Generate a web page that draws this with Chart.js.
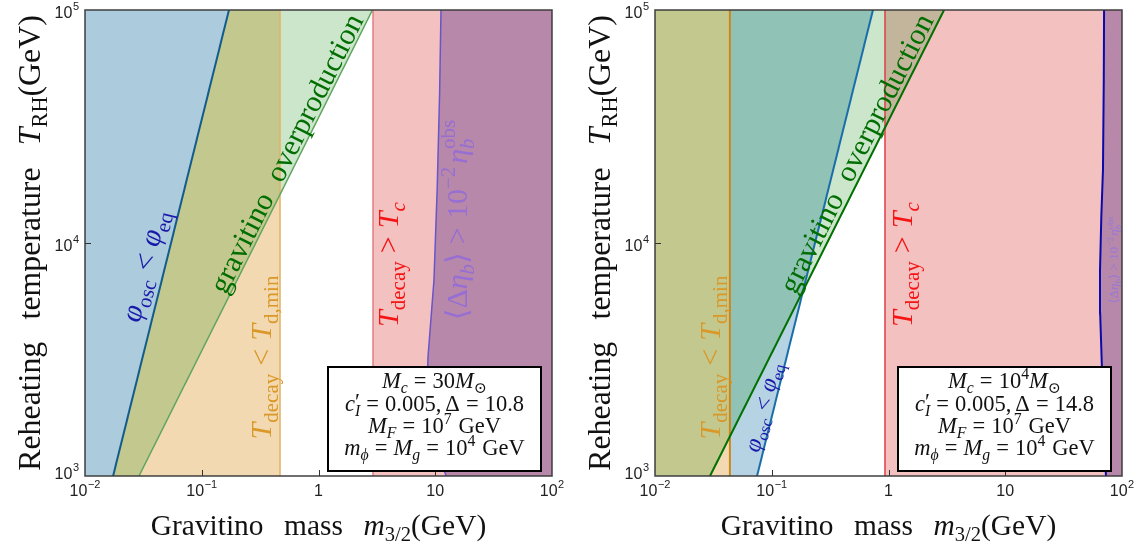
<!DOCTYPE html>
<html><head><meta charset="utf-8">
<script src="https://cdn.jsdelivr.net/npm/chart.js@4.4.1/dist/chart.umd.min.js"></script>
<style>
html,body{margin:0;padding:0;background:#fff;}
#wrap{position:relative;width:1145px;height:547px;overflow:hidden;background:#fff;}
canvas{position:absolute;top:0;}
#c1{left:0;width:572px;height:547px;}
#c2{left:572px;width:573px;height:547px;}
</style></head><body>
<div id="wrap"><canvas id="c1" width="572" height="547"></canvas><canvas id="c2" width="573" height="547"></canvas></div>
<script>
// ---------------- data ----------------
const xTickValues = [0.01, 0.1, 1, 10, 100];
const xTickLabels = ['10^\u22122', '10^\u22121', '1', '10', '10^2'];
const yTickValues = [1e3, 1e4, 1e5];
const yTickLabels = ['10^3', '10^4', '10^5'];

// Left panel: Mc = 30 Msun, Delta = 10.8   (points: [m_3/2 (GeV), T_RH (GeV)])
const leftOscBoundary = [[0.0174, 1e3], [0.171, 1e5]];
const leftGravitinoBoundary = [[0.029, 1e3], [2.9, 1e5]];
const leftTdMinMass = 0.468;
const leftTcMass = 2.93;
const leftEtaBoundary = [[12.4, 1e3], [9.3, 1500], [8.5, 2300], [8.67, 3245], [9.75, 6930], [10.4, 17400], [10.9, 44000], [11.2, 1e5]];

// Right panel: Mc = 1e4 Msun, Delta = 14.8
const rightOscBoundary = [[0.0748, 1e3], [0.736, 1e5]];
const rightGravitinoBoundary = [[0.0296, 1e3], [2.99, 1e5]];
const rightTdMinMass = 0.0438;
const rightTcMass = 0.933;
const rightEtaBoundary = [[72.9, 1e3], [68, 2000], [67.4, 2850], [65, 5000], [64.8, 7650], [66.5, 13000], [68.7, 20560], [69.8, 50000], [70.2, 1e5]];

// ---------------- helpers ----------------
const X0 = xTickValues[0], X1 = xTickValues[xTickValues.length - 1];
const Y0 = yTickValues[0], Y1 = yTickValues[yTickValues.length - 1];
const P = a => a.map(([x, y]) => ({x, y}));
const leftOfCurve = c => P([[X0, Y0], ...c, [X0, Y1]]);
const rightOfCurve = c => P([...c, [X1, Y1], [X1, Y0]]);
const leftOfMass = m => P([[X0, Y0], [m, Y0], [m, Y1], [X0, Y1]]);
const rightOfMass = m => P([[m, Y0], [X1, Y0], [X1, Y1], [m, Y1]]);
const betweenMassCurve = (m, c) => P([[m, Y0], ...c, [m, Y1]]);
const vline = m => P([[m, Y0], [m, Y1]]);

function fillDS(data, color) {
  return {data, backgroundColor: color, borderColor: 'rgba(0,0,0,0)', borderWidth: 0, fill: 'shape', pointRadius: 0, showLine: true};
}
function lineDS(data, color, w) {
  return {data, borderColor: color, backgroundColor: color, borderWidth: w, fill: false, pointRadius: 0, showLine: true};
}

const SERIF = '"Liberation Serif", "DejaVu Serif", serif';
const SANS = '"Liberation Sans", "DejaVu Sans", sans-serif';
function fontStr(f, s) { return (f === 'i' ? 'italic ' : '') + s.toFixed(2) + 'px ' + SERIF; }
function runWidth(ctx, r, size) {
  if (Array.isArray(r)) { const s = r[2] ? size * 0.7 : size; ctx.font = fontStr(r[1], s); return ctx.measureText(r[0]).width; }
  if (r.g !== undefined) return r.g * size;
  let w = 0;
  if (r.sub) { ctx.font = fontStr(r.subF || 'r', size * 0.7); w = Math.max(w, ctx.measureText(r.sub).width); }
  if (r.sup) { ctx.font = fontStr(r.supF || 'r', size * (r.supS || 0.7)); w = Math.max(w, ctx.measureText(r.sup).width); }
  return w;
}
function richWidth(ctx, runs, size) { return runs.reduce((a, r) => a + runWidth(ctx, r, size), 0); }
function drawRich(ctx, runs, size, x, y, angle, color) {
  const w = richWidth(ctx, runs, size);
  ctx.save();
  ctx.translate(x, y); ctx.rotate(angle);
  ctx.fillStyle = color; ctx.textBaseline = 'alphabetic'; ctx.textAlign = 'left';
  let cx = -w / 2;
  for (const r of runs) {
    if (Array.isArray(r)) {
      const s = r[2] ? size * 0.7 : size; ctx.font = fontStr(r[1], s);
      const dy = r[2] === 'sub' ? size * 0.22 : (r[2] === 'sup' ? -size * 0.4 : 0);
      ctx.fillText(r[0], cx, dy); cx += ctx.measureText(r[0]).width;
    } else if (r.g !== undefined) {
      cx += r.g * size;
    } else {
      let ww = 0;
      if (r.sub) { ctx.font = fontStr(r.subF || 'r', size * 0.7); ctx.fillText(r.sub, cx, size * 0.22); ww = Math.max(ww, ctx.measureText(r.sub).width); }
      if (r.sup) { ctx.font = fontStr(r.supF || 'r', size * (r.supS || 0.7)); ctx.fillText(r.sup, cx, -size * (r.supY || 0.4)); ww = Math.max(ww, ctx.measureText(r.sup).width); }
      cx += ww;
    }
  }
  ctx.restore();
}
// tick label like "10^-2" in sans with a real superscript
function drawTickLabel(ctx, label, x, y, align) {
  const [base, sup] = label.split('^');
  ctx.font = '16px ' + SANS; const wb = ctx.measureText(base).width;
  let ws = 0;
  if (sup) { ctx.font = '11px ' + SANS; ws = ctx.measureText(sup).width + 0.5; }
  const w = wb + ws;
  let x0 = align === 'right' ? x - w : x - w / 2;
  ctx.fillStyle = '#222'; ctx.textBaseline = 'middle'; ctx.textAlign = 'left';
  ctx.font = '16px ' + SANS; ctx.fillText(base, x0, y);
  if (sup) { ctx.font = '11px ' + SANS; ctx.fillText(sup, x0 + wb + 0.5, y - 7); }
}
const rel = s => [{g: 0.27}, [s, 'r'], {g: 0.27}];

// ---------------- texts ----------------
const PHI = [['\u03C6', 'i'], ['osc', 'r', 'sub'], ...rel('<'), ['\u03C6', 'i'], ['eq', 'r', 'sub']];
const GRAV = [['gravitino', 'r'], {g: 0.55}, ['overproduction', 'r']];
const TDMIN = [['T', 'i'], ['decay', 'r', 'sub'], ...rel('<'), ['T', 'i'], ['d,min', 'r', 'sub']];
const TC = [['T', 'i'], ['decay', 'r', 'sub'], ...rel('>'), ['T', 'i'], ['c', 'i', 'sub']];
const ETA = [['\u27E8\u0394', 'r'], ['\u03B7', 'i'], {sub: 'b', subF: 'i'}, ['\u27E9', 'r'], ...rel('>'), ['10', 'r'], ['\u22122', 'r', 'sup'], {g: 0.1}, ['\u03B7', 'i'], {sub: 'b', subF: 'i', sup: 'obs', supF: 'r'}];
const XTITLE = [['Gravitino', 'r'], {g: 0.7}, ['mass', 'r'], {g: 0.7}, ['m', 'i'], ['3/2', 'r', 'sub'], ['(GeV)', 'r']];
const YTITLE = [['Reheating', 'r'], {g: 0.7}, ['temperature', 'r'], {g: 0.7}, ['T', 'i'], ['RH', 'r', 'sub'], ['(GeV)', 'r']];
const LINE_MF = [['M', 'i'], ['F', 'i', 'sub'], ...rel('='), ['10', 'r'], ['7', 'r', 'sup'], {g: 0.3}, ['GeV', 'r']];
const LINE_MPHI = [['m', 'i'], ['\u03D5', 'i', 'sub'], ...rel('='), ['M', 'i'], ['g', 'i', 'sub'], ...rel('='), ['10', 'r'], ['4', 'r', 'sup'], {g: 0.3}, ['GeV', 'r']];
const cLine = d => [['c', 'i'], {sup: '\u2032', supS: 1.0, supY: 0.08, sub: 'I', subF: 'i', supF: 'r'}, ...rel('='), ['0.005,', 'r'], {g: 0.18}, ['\u0394', 'r'], ...rel('='), [d, 'r']];

const leftPanel = {
  canvas: 'c1', axisW: 85, padRight: 20,
  layers: [
    fillDS(leftOfMass(leftTdMinMass), 'rgba(222,160,60,0.4)'),
    fillDS(rightOfMass(leftTcMass), 'rgba(220,50,50,0.3)'),
    fillDS(leftOfCurve(leftGravitinoBoundary), 'rgba(0,128,0,0.2)'),
    fillDS(rightOfCurve(leftEtaBoundary), 'rgba(122,80,146,0.5)'),
    fillDS(leftOfCurve(leftOscBoundary), 'rgb(172,203,221)'),
    lineDS(vline(leftTdMinMass), 'rgb(226,178,98)', 1.5),
    lineDS(vline(leftTcMass), 'rgb(228,125,130)', 1.5),
    lineDS(P(leftGravitinoBoundary), 'rgb(95,165,95)', 1.5),
    lineDS(P(leftEtaBoundary), 'rgb(105,85,200)', 1.5),
    lineDS(P(leftOscBoundary), 'rgb(18,92,140)', 2)
  ],
  labels: [
    {runs: PHI, size: 30, color: 'rgb(25,25,170)', at: [0.0385, 7800], along: leftOscBoundary},
    {runs: GRAV, size: 30, color: 'rgb(0,110,0)', at: [0.629, 23200], along: leftGravitinoBoundary},
    {runs: TDMIN, size: 30, color: 'rgb(218,152,40)', at: [0.392, 3226], angle: -90},
    {runs: TC, size: 30, color: 'rgb(245,20,20)', at: [4.80, 8085], angle: -90},
    {runs: ETA, size: 30, color: 'rgb(150,110,212)', at: [18.7, 12550], angle: -90}
  ],
  legend: [
    [['M', 'i'], ['c', 'i', 'sub'], ...rel('='), ['30', 'r'], ['M', 'i'], ['\u2299', 'r', 'sub']],
    cLine('10.8'), LINE_MF, LINE_MPHI
  ]
};
const rightPanel = {
  canvas: 'c2', axisW: 83, padRight: 23,
  layers: [
    fillDS(leftOfMass(rightTdMinMass), 'rgba(222,160,60,0.4)'),
    fillDS(betweenMassCurve(rightTdMinMass, rightOscBoundary), 'rgb(182,211,228)'),
    fillDS(rightOfMass(rightTcMass), 'rgba(220,50,50,0.3)'),
    fillDS(leftOfCurve(rightGravitinoBoundary), 'rgba(0,128,0,0.2)'),
    fillDS(rightOfCurve(rightEtaBoundary), 'rgba(122,80,146,0.5)'),
    lineDS(vline(rightTdMinMass), 'rgb(205,135,25)', 2),
    lineDS(vline(rightTcMass), 'rgb(222,62,72)', 1.5),
    lineDS(P(rightOscBoundary), 'rgb(25,110,170)', 2),
    lineDS(P(rightGravitinoBoundary), 'rgb(0,112,0)', 2),
    lineDS(P(rightEtaBoundary), 'rgb(10,10,170)', 2)
  ],
  labels: [
    {runs: PHI, size: 24, color: 'rgb(25,25,170)', at: [0.0966, 1940], along: rightOscBoundary},
    {runs: GRAV, size: 30, color: 'rgb(0,110,0)', at: [0.629, 23200], along: rightGravitinoBoundary},
    {runs: TDMIN, size: 30, color: 'rgb(218,152,40)', at: [0.036, 3226], angle: -90},
    {runs: TC, size: 30, color: 'rgb(245,20,20)', at: [1.59, 8085], angle: -90},
    {runs: ETA, size: 13, color: 'rgb(150,120,215)', at: [92.4, 8450], angle: -90}
  ],
  legend: [
    [['M', 'i'], ['c', 'i', 'sub'], ...rel('='), ['10', 'r'], ['4', 'r', 'sup'], ['M', 'i'], ['\u2299', 'r', 'sub']],
    cLine('14.8'), LINE_MF, LINE_MPHI
  ]
};

function decor(panel) {
  return {
    id: 'decor_' + panel.canvas,
    afterDatasetsDraw(chart) {
      const ctx = chart.ctx, a = chart.chartArea, xs = chart.scales.x, ys = chart.scales.y;
      // region labels
      ctx.save();
      ctx.beginPath(); ctx.rect(a.left, a.top, a.right - a.left, a.bottom - a.top); ctx.clip();
      for (const L of panel.labels) {
        const px = xs.getPixelForValue(L.at[0]), py = ys.getPixelForValue(L.at[1]);
        let ang;
        if (L.along) {
          const p0 = L.along[0], p1 = L.along[L.along.length - 1];
          ang = Math.atan2(ys.getPixelForValue(p1[1]) - ys.getPixelForValue(p0[1]), xs.getPixelForValue(p1[0]) - xs.getPixelForValue(p0[0]));
        } else ang = L.angle * Math.PI / 180;
        drawRich(ctx, L.runs, L.size, px, py, ang, L.color);
      }
      ctx.restore();
      // tick marks
      ctx.save();
      ctx.strokeStyle = 'rgb(50,50,50)'; ctx.lineWidth = 1;
      for (const v of xTickValues.slice(1, -1)) {
        const x = Math.round(xs.getPixelForValue(v)) + 0.5;
        ctx.beginPath(); ctx.moveTo(x, a.bottom); ctx.lineTo(x, a.bottom - 6); ctx.stroke();
      }
      for (const v of yTickValues.slice(1, -1)) {
        const y = Math.round(ys.getPixelForValue(v)) + 0.5;
        ctx.beginPath(); ctx.moveTo(a.left, y); ctx.lineTo(a.left + 6, y); ctx.stroke();
      }
      // frame
      ctx.strokeStyle = 'rgba(55,55,55,0.9)'; ctx.lineWidth = 1.6;
      ctx.strokeRect(a.left, a.top, a.right - a.left, a.bottom - a.top);
      ctx.restore();
      // tick labels (positions from the library's scales)
      ctx.save();
      xTickValues.forEach((v, i) => drawTickLabel(ctx, xTickLabels[i], xs.getPixelForValue(v), a.bottom + 16, 'center'));
      yTickValues.forEach((v, i) => drawTickLabel(ctx, yTickLabels[i], a.left - 6, ys.getPixelForValue(v) + (i === 0 ? -1 : 4), 'right'));
      ctx.restore();
      // legend box
      const bw = 213, bh = 104, bx = a.right - 11 - bw, by = a.bottom - 5 - bh;
      ctx.save();
      ctx.fillStyle = '#fff'; ctx.fillRect(bx, by, bw, bh);
      ctx.strokeStyle = '#000'; ctx.lineWidth = 2; ctx.strokeRect(bx, by, bw, bh);
      const offs = [21, 44, 66, 88];
      panel.legend.forEach((ln, i) => drawRich(ctx, ln, 22.5, bx + bw / 2, by + offs[i], 0, '#111'));
      ctx.restore();
      // axis titles
      const xs2 = 335 / richWidth(ctx, XTITLE, 1);
      drawRich(ctx, XTITLE, xs2, (a.left + a.right) / 2, a.bottom + 59, 0, '#111');
      const ys2 = 455 / richWidth(ctx, YTITLE, 1);
      drawRich(ctx, YTITLE, ys2, a.left - 45, (a.top + a.bottom) / 2, -Math.PI / 2, '#111');
    }
  };
}

function makeChart(panel) {
  const n = panel.layers.length;
  panel.layers.forEach((d, i) => { d.order = n - i; });
  return new Chart(document.getElementById(panel.canvas), {
    type: 'scatter',
    data: {datasets: panel.layers},
    options: {
      responsive: false, animation: false, devicePixelRatio: 1, events: [],
      layout: {padding: {left: 0, right: panel.padRight, top: 10, bottom: 0}},
      plugins: {legend: {display: false}, tooltip: {enabled: false}},
      scales: {
        x: {
          type: 'logarithmic', position: 'bottom', min: X0, max: X1,
          grid: {display: false, drawTicks: false}, border: {display: false},
          afterBuildTicks: s => { s.ticks = xTickValues.map(v => ({value: v})); },
          afterFit: s => { s.height = 71; },
          ticks: {display: false, autoSkip: false, maxRotation: 0, callback: (v, i) => xTickLabels[i]}
        },
        y: {
          type: 'logarithmic', position: 'left', min: Y0, max: Y1,
          grid: {display: false, drawTicks: false}, border: {display: false},
          afterBuildTicks: s => { s.ticks = yTickValues.map(v => ({value: v})); },
          afterFit: s => { s.width = panel.axisW; },
          ticks: {display: false, autoSkip: false, callback: (v, i) => yTickLabels[i]}
        }
      }
    },
    plugins: [decor(panel)]
  });
}
makeChart(leftPanel);
makeChart(rightPanel);
</script>
</body></html>
